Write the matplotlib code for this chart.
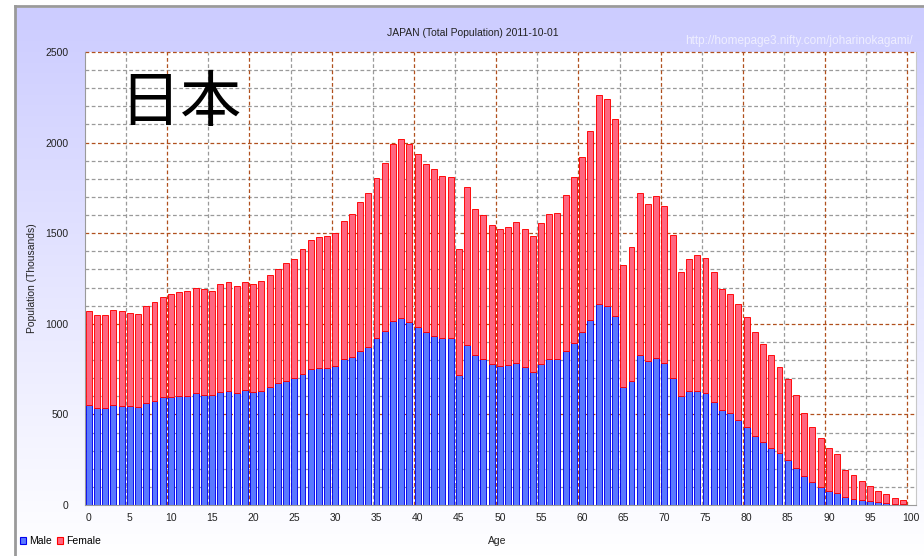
import matplotlib
matplotlib.use("Agg")
import matplotlib.pyplot as plt
import numpy as np
from matplotlib.lines import Line2D
from matplotlib.patches import Patch

# population by single year of age, thousands
AGES = list(range(100))
MALE = [
    551, 537, 537, 551, 547, 547, 542, 564, 573, 594,
    597, 603, 603, 616, 608, 608, 625, 630, 619, 634,
    625, 630, 649, 671, 684, 700, 722, 748, 757, 757,
    769, 803, 818, 851, 873, 919, 959, 1016, 1033, 1011,
    980, 952, 935, 919, 919, 717, 882, 827, 805, 777,
    768, 773, 781, 762, 735, 777, 807, 807, 851, 895,
    952, 1020, 1110, 1097, 1043, 649, 684, 827, 796, 814,
    785, 700, 599, 627, 630, 616, 570, 524, 505, 469,
    432, 382, 349, 316, 285, 248, 206, 160, 125, 97,
    79, 64, 46, 33, 28, 20, 16, 10, 6, 4,
]
FEMALE = [
    518, 510, 510, 524, 522, 515, 514, 533, 546, 554,
    566, 573, 578, 582, 585, 573, 597, 598, 592, 594,
    592, 606, 623, 634, 654, 660, 693, 713, 720, 726,
    732, 765, 790, 823, 847, 886, 930, 976, 988, 981,
    959, 932, 921, 896, 891, 698, 871, 809, 798, 770,
    755, 761, 781, 761, 748, 779, 801, 806, 862, 915,
    968, 1044, 1150, 1146, 1089, 678, 738, 897, 867, 889,
    865, 790, 687, 733, 752, 747, 716, 667, 662, 643,
    606, 573, 542, 511, 478, 447, 400, 345, 307, 270,
    233, 215, 147, 130, 106, 85, 61, 51, 33, 22,
]
X_TICKS = list(range(0, 101, 5))
Y_TICKS = [0, 500, 1000, 1500, 2000, 2500]

TITLE = "JAPAN (Total Population) 2011-10-01"
URL = "http://homepage3.nifty.com/joharinokagami/"

BASE_FONT = ["Liberation Sans", "DejaVu Sans"]
plt.rcParams["font.family"] = BASE_FONT

W, H = 924, 556
fig = plt.figure(figsize=(W / 100, H / 100), dpi=100)
fig.patch.set_facecolor("white")

# lavender panel with vertical gradient
bg = fig.add_axes([16 / W, 0, 1 - 16 / W, 1 - 8 / H])
bg.set_axis_off()
grad = np.linspace(0, 1, 256).reshape(-1, 1)
top_c = np.array([0.80, 0.80, 1.0])
bot_c = np.array([1.0, 1.0, 1.0])
img = top_c * (1 - grad[..., None]) + bot_c * grad[..., None]
img = np.clip(img, 0, 1)
bg.imshow(img, aspect="auto", extent=[0, 1, 0, 1], origin="upper")
bg.set_xlim(0, 1)
bg.set_ylim(0, 1)
fig.add_artist(Line2D([15 / W, 15 / W], [0, 1 - 6 / H], transform=fig.transFigure,
                      color="#9a9a9a", lw=2))
fig.add_artist(Line2D([15 / W, 1], [1 - 6 / H, 1 - 6 / H], transform=fig.transFigure,
                      color="#9a9a9a", lw=2))

# plot area
ax = fig.add_axes([85 / W, 1 - 505 / H, (916 - 85) / W, (505 - 52) / H])
ax.set_facecolor("white")
ax.set_xlim(-0.45, 100.6)
ax.set_ylim(0, 2500)

for v in range(100, 2500, 100):
    major = v % 500 == 0
    ax.axhline(v, color="#b0501e" if major else "#9a9a9a", lw=0.9,
               ls=(0, (3, 2)), zorder=0)
ax.axhline(2500, color="#b0501e", lw=0.9, ls=(0, (3, 2)), zorder=0, clip_on=False)
for a in range(5, 101, 5):
    major = a % 10 == 0
    ax.axvline(a - 0.45, color="#b0501e" if major else "#9a9a9a", lw=0.9,
               ls=(0, (3, 2)), zorder=0)

ax.bar(AGES, MALE, width=0.72, color="#5a78ff", edgecolor="#0000ee",
       linewidth=0.65, zorder=2, label="Male")
ax.bar(AGES, FEMALE, bottom=MALE, width=0.72, color="#ff6680",
       edgecolor="#ff0000", linewidth=0.65, zorder=2, label="Female")

ax.set_xticks(X_TICKS)
ax.set_yticks(Y_TICKS)
ax.tick_params(axis="both", length=0, labelsize=7.5, colors="#222222")
ax.tick_params(axis="y", pad=12)
ax.tick_params(axis="x", pad=6)
ax.spines["top"].set_visible(False)
ax.spines["right"].set_color("#c8c8c8")
ax.spines["left"].set_color("#9a9a9a")
ax.spines["bottom"].set_color("#9a9a9a")

# texts
fig.text(473 / W, 1 - 33 / H, TITLE, ha="center", va="center", fontsize=7.5,
         color="#222222")
fig.text(913 / W, 1 - 41 / H, URL, ha="right", va="center", fontsize=8.5,
         color="#eeeeff")
fig.text(119 / W, 1 - 104 / H, "日本", ha="left", va="center", fontsize=44,
         family=["Noto Sans CJK JP", "DejaVu Sans"], color="black")
fig.text(32 / W, 1 - 278 / H, "Population (Thousands)", rotation=90,
         ha="center", va="center", fontsize=7.5, color="#222222")
fig.text(497 / W, 1 - 541 / H, "Age", ha="center", va="center", fontsize=7.5,
         color="#222222")

handles = [Patch(facecolor="#5a78ff", edgecolor="#0000ee", lw=0.8, label="Male"),
           Patch(facecolor="#ff6680", edgecolor="#ff0000", lw=0.8, label="Female")]
fig.legend(handles=handles, loc="center left", bbox_to_anchor=(20 / W, 1 - 541 / H),
           ncol=2, frameon=False, fontsize=7.5, handlelength=0.6, handleheight=0.6,
           handletextpad=0.25, columnspacing=0.5, borderpad=0, borderaxespad=0)

fig.savefig("out.png", dpi=100)
